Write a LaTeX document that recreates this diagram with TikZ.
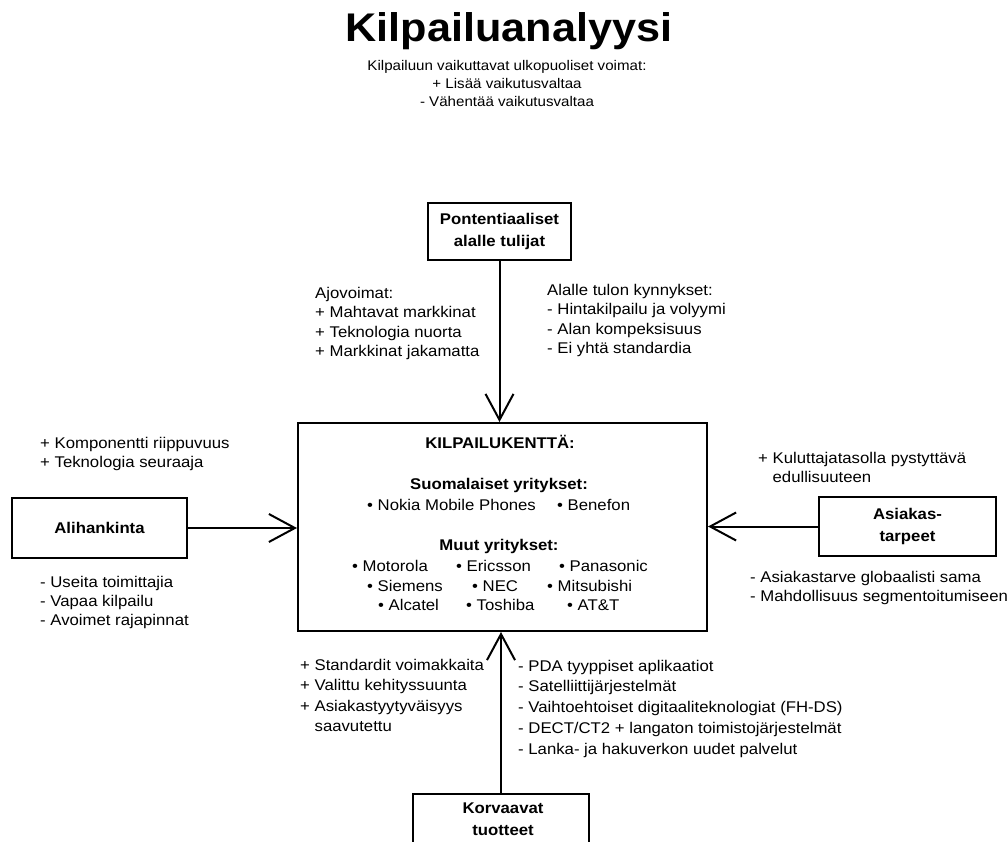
\documentclass[tikz,border=0pt]{standalone}
\usepackage{fontspec}
\setmainfont{Liberation Sans}[FakeStretch=1.08]
\usetikzlibrary{arrows.meta}
\begin{document}
\begin{tikzpicture}[x=1pt,y=-1pt,
  every node/.style={inner sep=0pt, text=black},
  txt/.style={font=\fontsize{15.5}{19.5}\selectfont, align=left, anchor=base west},
  hd/.style={font=\bfseries\fontsize{15.5}{19.5}\selectfont, anchor=base},
  boxlabel/.style={font=\bfseries\fontsize{15.5}{22}\selectfont, align=center},
  frame/.style={draw, line width=2pt, rectangle},
  conn/.style={line width=2pt, -{Straight Barb[length=26pt,width=28pt]}}
]
\useasboundingbox (0,0) rectangle (1008,842);
\clip (0,0) rectangle (1008,842);

% title (anchor base = baseline of the last line)
\node[font=\bfseries\fontsize{40}{44}\selectfont, anchor=base] (title) at (509,42) {Kilpailuanalyysi};
\node[font=\fontsize{14}{18}\selectfont, align=center, anchor=base] (sub) at (507,107)
  {Kilpailuun vaikuttavat ulkopuoliset voimat:\\+ Lisää vaikutusvaltaa\\- Vähentää vaikutusvaltaa};

% boxes
\node[frame, boxlabel, minimum width=143pt, minimum height=57pt] (pot) at (499.5,231.5) {Pontentiaaliset\\alalle tulijat};
\node[frame, minimum width=409pt, minimum height=208pt] (main) at (502.5,527) {};
\node[frame, boxlabel, minimum width=175pt, minimum height=60pt] (ali) at (99.5,528) {Alihankinta};
\node[frame, boxlabel, minimum width=177pt, minimum height=59pt] (asi) at (907.5,526.5) {Asiakas-\\tarpeet};
\node[frame, minimum width=176pt, minimum height=80pt] (korv) at (501,834) {};
\node[boxlabel, anchor=base] (korvtext) at (503,835) {Korvaavat\\tuotteet};

% connectors
\draw[conn] (pot.south) -- (pot.south |- main.north);
\draw[conn] (ali.east) -- (ali.east -| main.west);
\draw[conn] (asi.west) -- (asi.west -| main.east);
\draw[conn] (korv.north) -- (korv.north |- main.south);

% main box contents
\node[hd] (kk) at (500,448) {KILPAILUKENTTÄ:};
\node[hd] (suo) at (499,489) {Suomalaiset yritykset:};
\node[txt] (nokia) at (367,510) {• Nokia Mobile Phones};
\node[txt] (bene) at (557,510) {• Benefon};
\node[hd] (muut) at (499,550) {Muut yritykset:};
\node[txt] (moto) at (352,571) {• Motorola};
\node[txt] (eric) at (456,571) {• Ericsson};
\node[txt] (pana) at (559,571) {• Panasonic};
\node[txt] (siem) at (367,591) {• Siemens};
\node[txt] (nec) at (472,591) {• NEC};
\node[txt] (mits) at (547,591) {• Mitsubishi};
\node[txt] (alca) at (378,610) {• Alcatel};
\node[txt] (tosh) at (466,610) {• Toshiba};
\node[txt] (att) at (567,610) {• AT\&T};

% annotations (positions are the baseline of each block's last line)
\node[txt] (ajo) at (315,356.5) {Ajovoimat:\\+ Mahtavat markkinat\\+ Teknologia nuorta\\+ Markkinat jakamatta};
\node[txt] (kyn) at (547,353.5) {Alalle tulon kynnykset:\\- Hintakilpailu ja volyymi\\- Alan kompeksisuus\\- Ei yhtä standardia};
\node[txt, font=\fontsize{15.5}{19}\selectfont] (alip) at (40,467) {+ Komponentti riippuvuus\\+ Teknologia seuraaja};
\node[txt, font=\fontsize{15.5}{19}\selectfont] (alim) at (40,625) {- Useita toimittajia\\- Vapaa kilpailu\\- Avoimet rajapinnat};
\node[txt, font=\fontsize{15.5}{19}\selectfont] (asip) at (758,482) {+ Kuluttajatasolla pystyttävä\\\phantom{+ }edullisuuteen};
\node[txt, font=\fontsize{15.5}{19}\selectfont] (asim) at (750,601) {- Asiakastarve globaalisti sama\\- Mahdollisuus segmentoitumiseen};
\node[txt, font=\fontsize{15.5}{20.5}\selectfont] (korp) at (300,731.5) {+ Standardit voimakkaita\\+ Valittu kehityssuunta\\+ Asiakastyytyväisyys\\\phantom{+ }saavutettu};
\node[txt, font=\fontsize{15.5}{20.8}\selectfont] (korm) at (518,754.2) {- PDA tyyppiset aplikaatiot\\- Satelliittijärjestelmät\\- Vaihtoehtoiset digitaaliteknologiat (FH-DS)\\- DECT/CT2 + langaton toimistojärjestelmät\\- Lanka- ja hakuverkon uudet palvelut};
\end{tikzpicture}
\end{document}
